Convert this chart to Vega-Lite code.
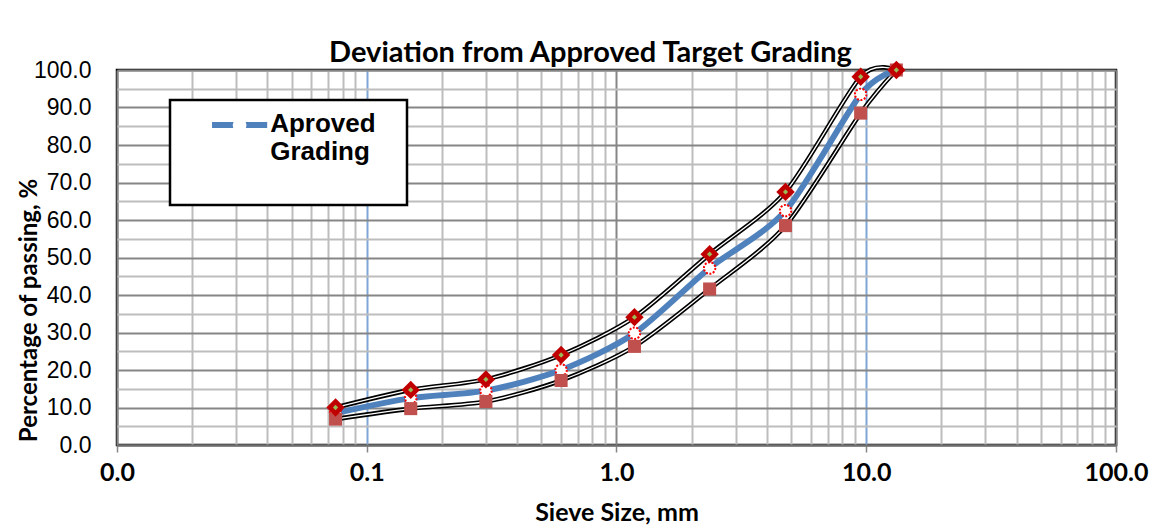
{
  "$schema": "https://vega.github.io/schema/vega-lite/v6.json",
  "width": 999,
  "height": 375,
  "autosize": "none",
  "padding": {"left": 117, "top": 70, "right": 49, "bottom": 83},
  "background": "white",
  "config": {"view": {"stroke": "black", "strokeWidth": 2.5}},
  "title": {
    "text": "Deviation from Approved Target Grading",
    "font": "Lato",
    "fontSize": 29,
    "fontWeight": "bold",
    "color": "black",
    "anchor": "middle",
    "frame": "group",
    "dx": -26,
    "dy": 20,
    "offset": 10
  },
  "datasets": {
    "grading": [
      {"size": 0.075, "upper": 10.0, "approved": 8.5, "lower": 6.9},
      {"size": 0.15, "upper": 14.7, "approved": 12.5, "lower": 9.7},
      {"size": 0.3, "upper": 17.5, "approved": 14.5, "lower": 11.6},
      {"size": 0.6, "upper": 24.0, "approved": 20.0, "lower": 17.2},
      {"size": 1.18, "upper": 34.1, "approved": 29.8, "lower": 26.3},
      {"size": 2.36, "upper": 50.9, "approved": 47.2, "lower": 41.6},
      {"size": 4.75, "upper": 67.5, "approved": 62.5, "lower": 58.5},
      {"size": 9.5, "upper": 98.2, "approved": 93.5, "lower": 88.5},
      {"size": 13.2, "upper": 100, "approved": 100, "lower": 100}
    ]
  },
  "data": {"name": "grading"},
  "transform": [{"fold": ["upper", "approved", "lower"], "as": ["series", "value"]}],
  "encoding": {
    "x": {
      "field": "size",
      "type": "quantitative",
      "scale": {"type": "log", "domain": [0.01, 100], "nice": false},
      "axis": {
        "title": "Sieve Size, mm",
        "values": [0.01, 0.02, 0.03, 0.04, 0.05, 0.06, 0.07, 0.08, 0.09, 0.1, 0.2, 0.3, 0.4, 0.5, 0.6, 0.7, 0.8, 0.9, 1, 2, 3, 4, 5, 6, 7, 8, 9, 10, 20, 30, 40, 50, 60, 70, 80, 90, 100],
        "grid": true,
        "gridWidth": 2,
        "gridColor": {"condition": [{"test": "indexof([0.1, 10], datum.value) >= 0", "value": "#7FA6D6"}, {"test": "indexof([0.01, 1, 100], datum.value) >= 0", "value": "#868686"}], "value": "#BDBDBD"},
        "labelExpr": "indexof([0.01, 0.1, 1, 10, 100], datum.value) >= 0 ? format(datum.value, '.1f') : ''",
        "labelOverlap": false,
        "labelBound": false,
        "labelFlush": false,
        "labelFont": "Lato",
        "labelFontWeight": "bold",
        "labelFontSize": 25,
        "labelColor": "black",
        "labelPadding": 8,
        "labelBaseline": "top",
        "tickSize": 7,
        "tickWidth": 1.5,
        "tickColor": "#868686",
        "tickOpacity": {"condition": {"test": "indexof([0.01, 0.1, 1, 10, 100], datum.value) >= 0", "value": 1}, "value": 0},
        "domainColor": "#6e6e6e",
        "domainWidth": 2,
        "titleFont": "Lato",
        "titleFontWeight": "bold",
        "titleFontSize": 25,
        "titleColor": "black",
        "titleBaseline": "alphabetic",
        "titleY": 75
      }
    },
    "y": {
      "field": "value",
      "type": "quantitative",
      "scale": {"domain": [0, 100], "nice": false},
      "axis": {
        "title": "Percentage of passing, %",
        "values": [0, 5, 10, 15, 20, 25, 30, 35, 40, 45, 50, 55, 60, 65, 70, 75, 80, 85, 90, 95, 100],
        "grid": true,
        "gridWidth": 2,
        "gridColor": {"condition": {"test": "datum.value % 10 == 0", "value": "#868686"}, "value": "#BDBDBD"},
        "labelExpr": "datum.value % 10 == 0 ? format(datum.value, '.1f') : ''",
        "labelOverlap": false,
        "labelBound": false,
        "labelFont": "Liberation Sans",
        "labelFontSize": 23,
        "labelColor": "black",
        "labelPadding": 26,
        "ticks": false,
        "domain": false,
        "titleFont": "Lato",
        "titleFontWeight": "bold",
        "titleFontSize": 24,
        "titleColor": "black",
        "titleAngle": -90,
        "titleAlign": "center",
        "titleBaseline": "middle",
        "titleX": -88,
        "titleY": 240
      }
    }
  },
  "layer": [
    {
      "transform": [{"filter": "datum.series == 'upper'"}],
      "mark": {"type": "line", "interpolate": "cardinal", "tension": 0.2, "color": "black", "strokeWidth": 4.6}
    },
    {
      "transform": [{"filter": "datum.series == 'upper'"}],
      "mark": {"type": "line", "interpolate": "cardinal", "tension": 0.2, "color": "white", "strokeWidth": 1.3}
    },
    {
      "transform": [{"filter": "datum.series == 'lower'"}],
      "mark": {"type": "line", "interpolate": "cardinal", "tension": 0.2, "color": "black", "strokeWidth": 4.6}
    },
    {
      "transform": [{"filter": "datum.series == 'lower'"}],
      "mark": {"type": "line", "interpolate": "cardinal", "tension": 0.2, "color": "white", "strokeWidth": 1.3}
    },
    {
      "transform": [{"filter": "datum.series == 'approved'"}],
      "mark": {"type": "line", "interpolate": "cardinal", "tension": 0.2, "strokeWidth": 6},
      "encoding": {
        "color": {
          "datum": "Aproved Grading",
          "scale": {"range": ["#4F81BD"]},
          "legend": {
            "orient": "none",
            "legendX": 53,
            "legendY": 30,
            "title": null,
            "padding": 12,
            "fillColor": "white",
            "strokeColor": "black",
            "symbolType": "M-4,0L4,0",
            "symbolSize": 190,
            "symbolStrokeWidth": 6,
            "symbolOffset": 44.6,
            "labelOffset": 17.6,
            "labelFont": "Liberation Sans",
            "labelFontSize": 26,
            "labelFontWeight": "bold",
            "labelColor": "black",
            "labelBaseline": "top",
            "labelLineHeight": 30,
            "labelLimit": 400,
            "labelExpr": "['Aproved\u2800', 'Grading', '\u2800']",
            "encode": {
              "legend": {"update": {"strokeWidth": {"value": 2.5}}},
              "labels": {"update": {"dy": {"value": -14}}}
            }
          }
        }
      }
    },
    {
      "transform": [{"filter": "datum.series == 'approved'"}],
      "mark": {"type": "point", "filled": false, "fill": "white", "fillOpacity": 1, "stroke": "#FF0000", "strokeWidth": 2, "strokeDash": [2, 1.5], "opacity": 1, "size": 130},
      "encoding": {
        "shape": {
          "datum": "Aproved Grading marker",
          "scale": {"range": ["circle"]},
          "legend": {
            "orient": "none",
            "legendX": 53,
            "legendY": 30,
            "title": null,
            "padding": 12,
            "fillColor": "transparent",
            "strokeColor": "transparent",
            "symbolSize": 190,
            "symbolFillColor": "white",
            "symbolStrokeColor": "#FF0000",
            "symbolStrokeWidth": 2,
            "symbolDash": [2, 1.5],
            "symbolOpacity": 1,
            "symbolOffset": 44.6,
            "labelOffset": 17.6,
            "labelFont": "Liberation Sans",
            "labelFontSize": 26,
            "labelFontWeight": "bold",
            "labelColor": "transparent",
            "labelExpr": "''",
            "encode": {
              "symbols": {"update": {"fill": {"value": "white"}, "fillOpacity": {"value": 1}, "stroke": {"value": "#FF0000"}, "strokeOpacity": {"value": 1}, "strokeWidth": {"value": 2}, "strokeDash": {"value": [2, 1.5]}}}
            }
          }
        }
      }
    },
    {
      "transform": [{"filter": "datum.series == 'lower'"}],
      "mark": {"type": "point", "shape": "square", "filled": true, "color": "#C0504D", "opacity": 1, "size": 170}
    },
    {
      "transform": [{"filter": "datum.series == 'upper'"}],
      "mark": {"type": "point", "shape": "diamond", "filled": true, "color": "#C00000", "opacity": 1, "size": 340}
    },
    {
      "transform": [{"filter": "datum.series == 'upper'"}],
      "mark": {"type": "point", "shape": "diamond", "filled": true, "color": "#9BBB59", "opacity": 1, "size": 28}
    }
  ]
}
